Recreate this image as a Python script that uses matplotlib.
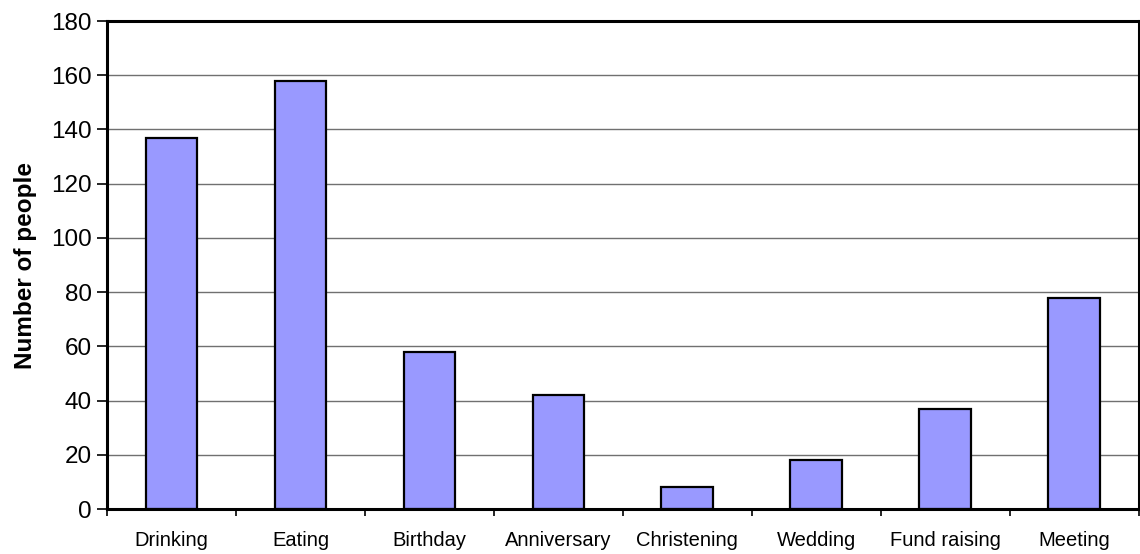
import numpy as np
import matplotlib.pyplot as plt

plt.rcParams['font.family'] = ['Liberation Sans', 'DejaVu Sans']

categories = ['Drinking', 'Eating', 'Birthday', 'Anniversary', 'Christening',
              'Wedding', 'Fund raising', 'Meeting']
people = [137, 158, 58, 42, 8, 18, 37, 78]
y_ticks = list(range(0, 181, 20))

fig = plt.figure(figsize=(11.4, 5.54), dpi=100)
ax = fig.add_axes([0.0939, 0.0812, 0.9048, 0.8808])

x = np.arange(len(categories))
ax.bar(x, people, width=0.4, color='#9999FF', edgecolor='black',
       linewidth=1.6, zorder=3)

ax.set_xlim(-0.5, len(categories) - 0.5)
ax.set_ylim(0, 180)
ax.set_yticks(y_ticks)
ax.yaxis.grid(True, color='#707070', linewidth=1.0, zorder=0)

# labels centred under bars, tick marks between categories
ax.set_xticks(x)
ax.set_xticklabels(categories, fontsize=14.5)
ax.set_xticks(np.arange(len(categories) + 1) - 0.5, minor=True)
ax.tick_params(axis='x', which='major', length=0, pad=16)
ax.tick_params(axis='x', which='minor', length=5, width=1.2, direction='out')
ax.tick_params(axis='y', labelsize=17.5, length=7, width=1.2, direction='out', pad=4)

ax.set_ylabel('Number of people', fontsize=17.5, fontweight='bold', labelpad=10)

for s in ax.spines.values():
    s.set_linewidth(2.2)
    s.set_zorder(4)

fig.savefig('out.png', dpi=100)
